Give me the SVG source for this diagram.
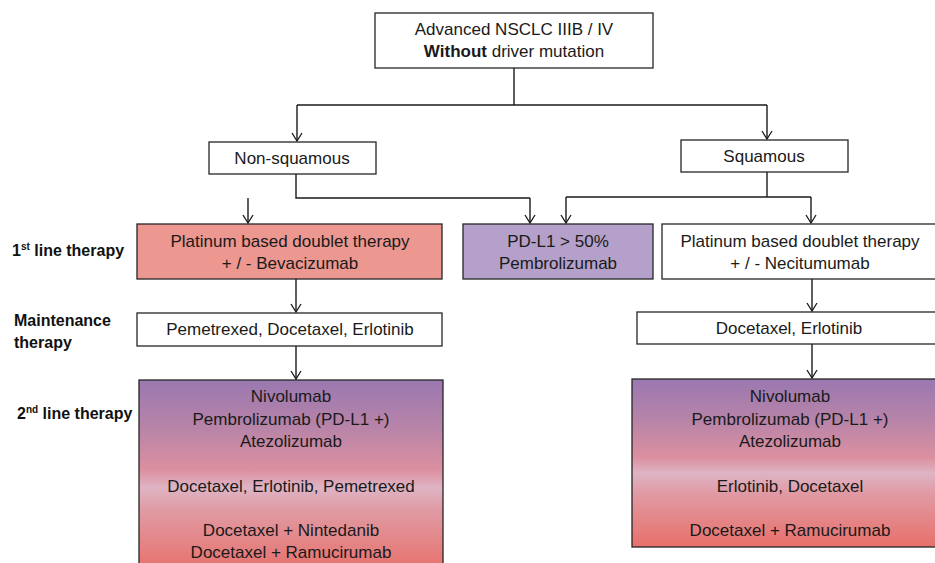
<svg xmlns="http://www.w3.org/2000/svg" width="935" height="563" viewBox="0 0 935 563">
<style>
.box{stroke:#262626;stroke-width:1.3}
.w{fill:#ffffff}
.t{font-family:"Liberation Sans",Arial,sans-serif;font-size:17px;fill:#1a1a1a;text-anchor:middle}
.lab{font-family:"Liberation Sans",Arial,sans-serif;font-size:16px;font-weight:bold;fill:#111}
.sup{font-size:10px}
.c{fill:none;stroke:#1a1a1a;stroke-width:1.4}
</style>
<defs>
<marker id="arr" viewBox="0 0 10 12" refX="9" refY="6" markerWidth="10" markerHeight="12" markerUnits="userSpaceOnUse" orient="auto">
<path d="M1,1 L9,6 L1,11" fill="none" stroke="#1a1a1a" stroke-width="1.3"/>
</marker>
<linearGradient id="g" x1="0" y1="0" x2="0" y2="1">
<stop offset="0" stop-color="#9a78b0"/>
<stop offset="0.25" stop-color="#b884a8"/>
<stop offset="0.47" stop-color="#dc90a0"/>
<stop offset="0.56" stop-color="#deb4c4"/>
<stop offset="0.68" stop-color="#e09aa4"/>
<stop offset="1" stop-color="#e8706a"/>
</linearGradient>
</defs>
<rect width="935" height="563" fill="#ffffff"/>

<g id="connectors">
<path class="c" d="M514,68 V105"/>
<path class="c" d="M297,105 H767"/>
<path class="c" d="M297,105 V141" marker-end="url(#arr)"/>
<path class="c" d="M767,105 V139" marker-end="url(#arr)"/>
<path class="c" d="M296,174 V198 H530"/>
<path class="c" d="M248,198 V223" marker-end="url(#arr)"/>
<path class="c" d="M530,198 V223" marker-end="url(#arr)"/>
<path class="c" d="M767,172 V197"/>
<path class="c" d="M566,197 H811"/>
<path class="c" d="M566,197 V223" marker-end="url(#arr)"/>
<path class="c" d="M811,197 V223" marker-end="url(#arr)"/>
<path class="c" d="M296,279 V312" marker-end="url(#arr)"/>
<path class="c" d="M296,346 V379" marker-end="url(#arr)"/>
<path class="c" d="M812,279 V311" marker-end="url(#arr)"/>
<path class="c" d="M812,344 V378" marker-end="url(#arr)"/>
</g>

<g id="root">
<rect class="box w" x="375" y="13" width="278" height="55"/>
<text class="t" x="514" y="35">Advanced NSCLC IIIB / IV</text>
<text class="t" x="514" y="57"><tspan font-weight="bold">Without</tspan> driver mutation</text>
</g>

<g id="nonsquamous">
<rect class="box w" x="209" y="142" width="167" height="32"/>
<text class="t" x="292" y="164">Non-squamous</text>
</g>

<g id="squamous">
<rect class="box w" x="681" y="140" width="167" height="32"/>
<text class="t" x="764" y="162">Squamous</text>
</g>

<g id="first-line-label">
<text class="lab" x="12" y="256">1<tspan class="sup" dy="-6">st</tspan><tspan dy="6"> line therapy</tspan></text>
</g>
<g id="maintenance-label">
<text class="lab" x="14" y="326">Maintenance</text>
<text class="lab" x="14" y="348">therapy</text>
</g>
<g id="second-line-label">
<text class="lab" x="17" y="419">2<tspan class="sup" dy="-6">nd</tspan><tspan dy="6"> line therapy</tspan></text>
</g>

<g id="platinum-bev">
<rect class="box" fill="#ec9790" x="137" y="224" width="305" height="55"/>
<text class="t" x="290" y="247">Platinum based doublet therapy</text>
<text class="t" x="290" y="269">+ / - Bevacizumab</text>
</g>

<g id="pdl1">
<rect class="box" fill="#b4a0c8" x="463" y="224" width="190" height="55"/>
<text class="t" x="558" y="247">PD-L1 &gt; 50%</text>
<text class="t" x="558" y="269">Pembrolizumab</text>
</g>

<g id="platinum-neci">
<rect class="box w" x="662" y="224" width="280" height="55"/>
<text class="t" x="800" y="247">Platinum based doublet therapy</text>
<text class="t" x="800" y="269">+ / - Necitumumab</text>
</g>

<g id="maint-left">
<rect class="box w" x="137" y="313" width="305" height="33"/>
<text class="t" x="290" y="335">Pemetrexed, Docetaxel, Erlotinib</text>
</g>

<g id="maint-right">
<rect class="box w" x="637" y="312" width="305" height="32"/>
<text class="t" x="789" y="334">Docetaxel, Erlotinib</text>
</g>

<g id="second-left">
<rect class="box" fill="url(#g)" x="139" y="380" width="304" height="192"/>
<text class="t" x="291" y="402">Nivolumab</text>
<text class="t" x="291" y="425">Pembrolizumab (PD-L1 +)</text>
<text class="t" x="291" y="447">Atezolizumab</text>
<text class="t" x="291" y="492">Docetaxel, Erlotinib, Pemetrexed</text>
<text class="t" x="291" y="536">Docetaxel + Nintedanib</text>
<text class="t" x="291" y="558">Docetaxel + Ramucirumab</text>
</g>

<g id="second-right">
<rect class="box" fill="url(#g)" x="632" y="379" width="310" height="168"/>
<text class="t" x="790" y="402">Nivolumab</text>
<text class="t" x="790" y="425">Pembrolizumab (PD-L1 +)</text>
<text class="t" x="790" y="447">Atezolizumab</text>
<text class="t" x="790" y="492">Erlotinib, Docetaxel</text>
<text class="t" x="790" y="536">Docetaxel + Ramucirumab</text>
</g>
</svg>
